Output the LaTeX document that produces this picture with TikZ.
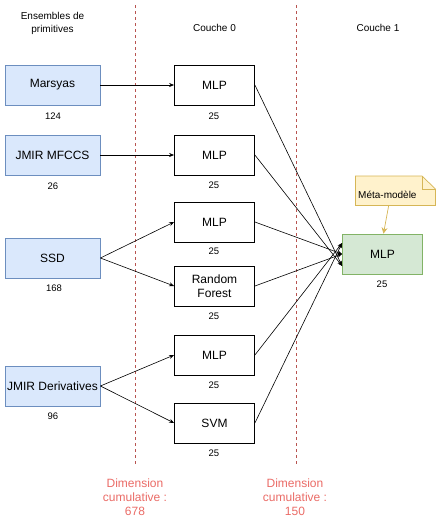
\documentclass[tikz,border=0pt]{standalone}
\usepackage{fontspec}
\setmainfont{Liberation Sans}
\usetikzlibrary{arrows.meta,shapes.misc}
\definecolor{bluefill}{HTML}{DAE8FC}
\definecolor{bluedraw}{HTML}{6C8EBF}
\definecolor{greenfill}{HTML}{D5E8D4}
\definecolor{greendraw}{HTML}{82B366}
\definecolor{notefill}{HTML}{FFF2CC}
\definecolor{notedraw}{HTML}{D6B656}
\definecolor{sepred}{HTML}{B85450}
\definecolor{dimred}{HTML}{EA6B66}
\tikzset{
  inbox/.style={draw=bluedraw, fill=bluefill, line width=0.8pt, minimum width=95pt, minimum height=40pt, inner sep=0pt, font=\fontsize{12}{14}\selectfont, align=center},
  modbox/.style={draw=black, fill=white, line width=0.8pt, minimum width=80pt, minimum height=40pt, inner sep=0pt, font=\fontsize{12}{14}\selectfont, align=center},
  metabox/.style={draw=greendraw, fill=greenfill, line width=0.8pt, minimum width=80pt, minimum height=40pt, inner sep=0pt, font=\fontsize{12}{14}\selectfont},
  dimlabel/.style={font=\fontsize{9.5}{11}\selectfont, inner sep=0pt},
  header/.style={font=\fontsize{10}{12.5}\selectfont, align=center, inner sep=0pt},
  cumul/.style={font=\fontsize{12}{14}\selectfont, text=dimred, align=center, inner sep=0pt},
  sep/.style={draw=sepred, dashed, line width=0.6pt, dash pattern=on 3pt off 3pt},
  conn/.style={draw=black, line width=0.6pt, -{Stealth[length=5pt,width=4pt]}},
}
\begin{document}
\begin{tikzpicture}[x=1pt,y=-1pt]
\useasboundingbox (0,0) rectangle (441,528);
% separators
\coordinate (s1t) at (135.5,5); \coordinate (s1b) at (135.5,465);
\coordinate (s2t) at (296.5,5); \coordinate (s2b) at (296.5,465);
\draw[sep] (s1t) -- (s1b);
\draw[sep] (s2t) -- (s2b);
% headers
\node[header] (h0) at (52.5,23.5) {Ensembles de\\primitives};
\node[header] (h1) at (214.5,28) {Couche 0};
\node[header] (h2) at (378,28) {Couche 1};
% input boxes
\node[inbox] (mar) at (52.5,85) {Marsyas};
\node[inbox] (mfc) at (52.5,155) {JMIR MFCCS};
\node[inbox] (ssd) at (52.5,258) {SSD};
\node[inbox] (der) at (52.5,386) {JMIR Derivatives};
\node[dimlabel] (lmar) at (53,116) {124};
\node[dimlabel] (lmfc) at (53,186) {26};
\node[dimlabel] (lssd) at (54,288.5) {168};
\node[dimlabel] (lder) at (53,416.5) {96};
% layer 0
\node[modbox] (m1) at (214.5,85) {MLP};
\node[modbox] (m2) at (214.5,155) {MLP};
\node[modbox] (m3) at (214.5,222) {MLP};
\node[modbox] (rf) at (214.5,286) {Random\\Forest};
\node[modbox] (m5) at (214.5,355) {MLP};
\node[modbox] (svm) at (214.5,423) {SVM};
\node[dimlabel] (l1) at (214,116) {25};
\node[dimlabel] (l2) at (214,185) {25};
\node[dimlabel] (l3) at (214,251.5) {25};
\node[dimlabel] (l4) at (214,316.5) {25};
\node[dimlabel] (l5) at (214,385) {25};
\node[dimlabel] (l6) at (214,453) {25};
% meta model
\node[metabox] (meta) at (382.5,254) {MLP};
\node[dimlabel] (lmeta) at (382,284.5) {25};
% note
\coordinate (nA) at (355.5,176); \coordinate (nB) at (422,176); \coordinate (nC) at (435.5,189);
\coordinate (nD) at (435.5,205.5); \coordinate (nE) at (355.5,205.5);
\draw[draw=notedraw, fill=notefill, line width=0.7pt] (nA) -- (nB) -- (nC) -- (nD) -- (nE) -- cycle;
\draw[draw=notedraw, line width=0.7pt] (nB) -- (422,189) -- (nC);
\node[font=\fontsize{10}{12}\selectfont, anchor=west, inner sep=0pt] (note) at (358,194.5) {Méta-modèle};
\coordinate (nbot) at (388.7,205.5);
\draw[draw=notedraw, line width=0.7pt, -{Stealth[length=6pt,width=6pt]}] (nbot) -- (meta.north -| 383.5,0);
% cumulative labels
\node[cumul] (c1) at (135,497) {Dimension\\cumulative :\\678};
\node[cumul] (c2) at (295,497) {Dimension\\cumulative :\\150};
% connectors
\draw[conn] (mar.east) -- (m1.west);
\draw[conn] (mfc.east) -- (m2.west);
\draw[conn] (ssd.east) -- (m3.west);
\draw[conn] (ssd.east) -- (rf.west);
\draw[conn] (der.east) -- (m5.west);
\draw[conn] (der.east) -- (svm.west);
\coordinate (mt) at ([yshift=-12pt]meta.west);
\coordinate (mb) at ([yshift=11pt]meta.west);
\draw[conn] (m1.east) -- (mt);
\draw[conn] (m2.east) -- (mt);
\draw[conn] (m3.east) -- (meta.west);
\draw[conn] (rf.east) -- (meta.west);
\draw[conn] (m5.east) -- (mb);
\draw[conn] (svm.east) -- (mb);
\end{tikzpicture}
\end{document}
